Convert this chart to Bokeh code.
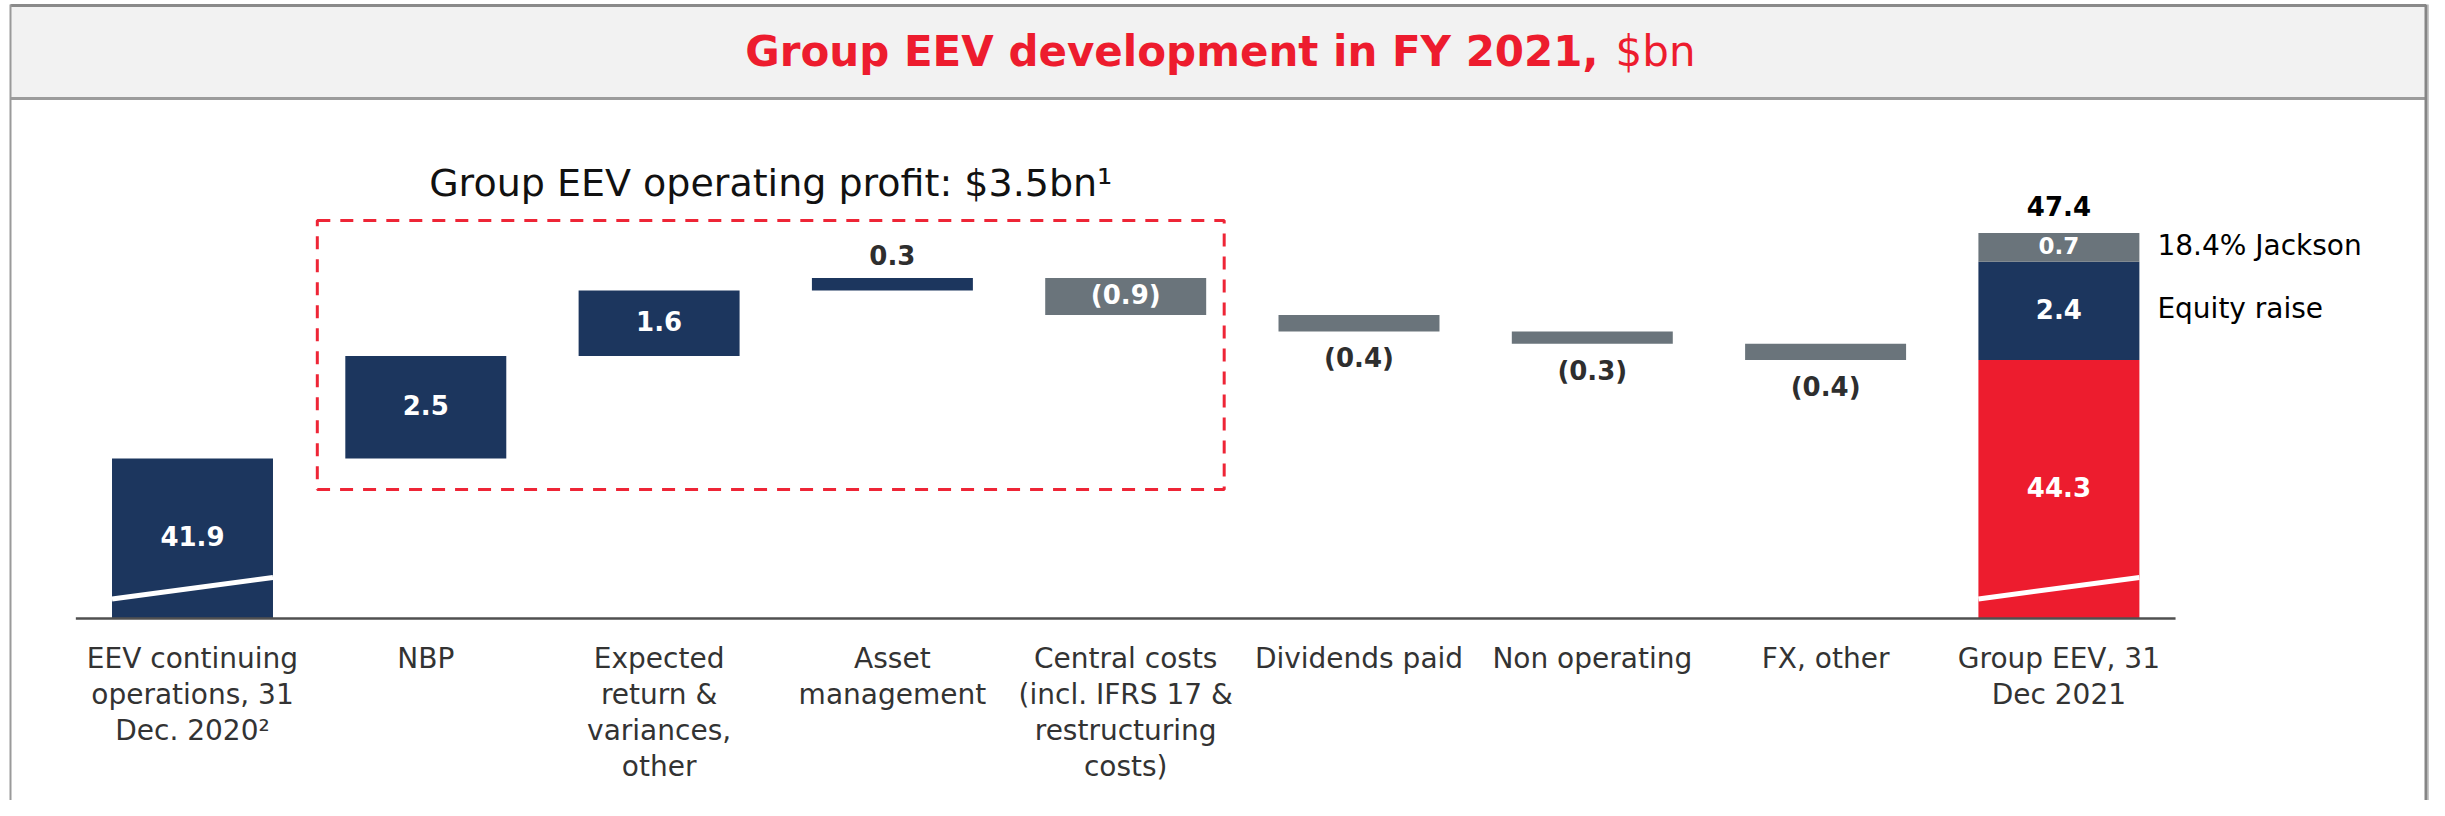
import numpy as np
from bokeh.plotting import figure
from bokeh.models import Range1d
from bokeh.core.properties import value
from bokeh.embed import file_html
from bokeh.resources import INLINE

# ---------------- data ----------------
categories = [
    "EEV continuing\noperations, 31\nDec. 2020\u00b2",
    "NBP",
    "Expected\nreturn &\nvariances,\nother",
    "Asset\nmanagement",
    "Central costs\n(incl. IFRS 17 &\nrestructuring\ncosts)",
    "Dividends paid",
    "Non operating",
    "FX, other",
    "Group EEV, 31\nDec 2021",
]
opening_value = 41.9
step_values = [2.5, 1.6, 0.3, -0.9, -0.4, -0.3, -0.4]
closing_parts = [44.3, 2.4, 0.7]
closing_part_names = ["", "Equity raise", "18.4% Jackson"]
operating_categories = ["NBP", "Expected\nreturn &\nvariances,\nother", "Asset\nmanagement",
                        "Central costs\n(incl. IFRS 17 &\nrestructuring\ncosts)"]
operating_profit_text = "Group EEV operating profit: $3.5bn\u00b9"
title_bold = "Group EEV development in FY 2021,"
title_unit = "$bn"

# ---------------- style / layout ----------------
NAVY = "#1c365e"
GRAY = "#6a747b"
RED = "#ed1c2e"
DARK = "#2e2e2e"
FONT = value("DejaVu Sans")

W, H = 2429, 800
X0_PX, DX_PX = 192.0, 233.3     # px of first category centre, spacing
Y0_PX, KY = 2175.9, 41.0        # y_px = Y0_PX - KY * value
FLOOR = 38.0                    # broken-axis floor value
BAR_W = 0.69


def X(px):
    return (px - X0_PX) / DX_PX


def Y(py):
    return (Y0_PX - py) / KY


def PXV(n):  # n pixels expressed in value units
    return n / KY


def PXX(n):
    return n / DX_PX


p = figure(width=W, height=H, output_backend="svg", toolbar_location=None,
           x_range=Range1d(X(0), X(W)), y_range=Range1d(Y(H), Y(0)),
           x_axis_type=None, y_axis_type=None, min_border=0,
           min_border_left=0, min_border_right=0, min_border_top=0, min_border_bottom=0,
           outline_line_color=None, background_fill_color="white",
           border_fill_color="white")
p.grid.visible = False

# ---------------- frame / header ----------------
RB = W - 3.5
p.quad(left=[X(10)], right=[X(RB)], top=[Y(5)], bottom=[Y(98)],
       fill_color="#f2f2f2", line_color=None)
p.segment(x0=[X(10)], x1=[X(RB)], y0=[Y(98)], y1=[Y(98)], line_color="#9c9c9c", line_width=3)
p.segment(x0=[X(10)], x1=[X(RB)], y0=[Y(5)], y1=[Y(5)], line_color="#8a8a8a", line_width=3)
p.segment(x0=[X(10)], x1=[X(10)], y0=[Y(4)], y1=[Y(H)], line_color="#9a9a9a", line_width=2)
p.segment(x0=[X(W - 1)], x1=[X(W - 1)], y0=[Y(4)], y1=[Y(H)], line_color="#c9c9c9", line_width=2)
p.segment(x0=[X(RB)], x1=[X(RB)], y0=[Y(4)], y1=[Y(H)], line_color="#858585", line_width=3)

p.text(x=[X(1598)], y=[Y(51)], text=[title_bold], text_font=FONT, text_font_style="bold",
       text_font_size="42px", text_color=RED, text_align="right", text_baseline="middle")
p.text(x=[X(1615)], y=[Y(51)], text=[title_unit], text_font=FONT, text_font_style="normal",
       text_font_size="42px", text_color=RED, text_align="left", text_baseline="middle")

# ---------------- waterfall computation ----------------
n = len(categories)
steps = np.array(step_values)
levels = opening_value + np.concatenate([[0.0], np.cumsum(steps)])
step_x = np.arange(1, 1 + len(steps))
step_bottom = np.minimum(levels[:-1], levels[1:])
step_top = np.maximum(levels[:-1], levels[1:])
step_color = [NAVY if s > 0 else GRAY for s in steps]

close_x = n - 1
cp = np.array(closing_parts)
close_top = np.cumsum(cp)
close_bottom = np.concatenate([[FLOOR], close_top[:-1]])
close_color = [RED, NAVY, GRAY]

# bars
p.vbar(x=[0], bottom=[FLOOR], top=[opening_value], width=BAR_W, fill_color=NAVY, line_color=None)
p.vbar(x=step_x, bottom=step_bottom, top=step_top, width=BAR_W, fill_color=step_color, line_color=None)
p.vbar(x=[close_x] * len(cp), bottom=close_bottom, top=close_top, width=BAR_W,
       fill_color=close_color, line_color=None)

# axis-break marks on the first and last bars
brk_lo, brk_hi = Y(598.5), Y(577)
p.segment(x0=[0 - BAR_W / 2, close_x - BAR_W / 2], x1=[0 + BAR_W / 2, close_x + BAR_W / 2],
          y0=[brk_lo, brk_lo], y1=[brk_hi, brk_hi], line_color="white", line_width=5)

# baseline axis line
p.segment(x0=[-0.5], x1=[n - 0.5], y0=[FLOOR], y1=[FLOOR], line_color="#505050", line_width=2.5)

# operating profit dashed box
op_idx = [categories.index(c) for c in operating_categories]
box_l = min(op_idx) - BAR_W / 2 - PXX(28)
box_r = max(op_idx) + BAR_W / 2 + PXX(18)
p.quad(left=[box_l], right=[box_r], top=[Y(220)], bottom=[Y(489)], fill_color=None,
       line_color="#ee2536", line_width=3, line_dash="13 10")
p.text(x=[(box_l + box_r) / 2], y=[Y(182)], text=[operating_profit_text], text_font=FONT,
       text_font_size="38px", text_color="#111111", text_align="center", text_baseline="middle")

# ---------------- value labels ----------------
def fmt(v):
    return f"{v:.1f}" if v >= 0 else f"({abs(v):.1f})"


UP = PXV(2)
lx, ly, lt, lc, ls = [], [], [], [], []
lx.append(0); ly.append((FLOOR + opening_value) / 2 + UP); lt.append(fmt(opening_value)); lc.append("white"); ls.append("26px")
for xi, s, b, t in zip(step_x, steps, step_bottom, step_top):
    lx.append(xi); lt.append(fmt(s))
    if abs(s) >= 0.6:
        ly.append((b + t) / 2 + UP); lc.append("white")
    elif s > 0:
        ly.append(t + PXV(21) + UP); lc.append(DARK)
    else:
        ly.append(b - PXV(29) + UP); lc.append(DARK)
    ls.append("26px")
for v, b, t in zip(cp, close_bottom, close_top):
    lx.append(close_x); ly.append((b + t) / 2 + UP); lt.append(fmt(v)); lc.append("white")
    ls.append("26px" if (t - b) * KY > 35 else "23px")
lx.append(close_x); ly.append(close_top[-1] + PXV(25) + UP); lt.append(fmt(close_top[-1])); lc.append("black"); ls.append("26px")

p.text(x=lx, y=ly, text=lt, text_color=lc, text_font_size=ls, text_font=FONT,
       text_font_style="bold", text_align="center", text_baseline="middle")

# side labels of closing stack
side = [(nm, (b + t) / 2) for nm, b, t in zip(closing_part_names, close_bottom, close_top) if nm]
p.text(x=[close_x + BAR_W / 2 + PXX(18)] * len(side), y=[s[1] + UP for s in side], text=[s[0] for s in side],
       text_font=FONT, text_font_size="28px", text_color="black", text_align="left",
       text_baseline="middle")

# ---------------- category labels ----------------
p.text(x=list(range(n)), y=[Y(641)] * n, text=categories, text_font=FONT, text_font_size="28px",
       text_color="#333333", text_align="center", text_baseline="top", text_line_height=1.1)

open("out.html", "w").write(file_html(p, INLINE))
